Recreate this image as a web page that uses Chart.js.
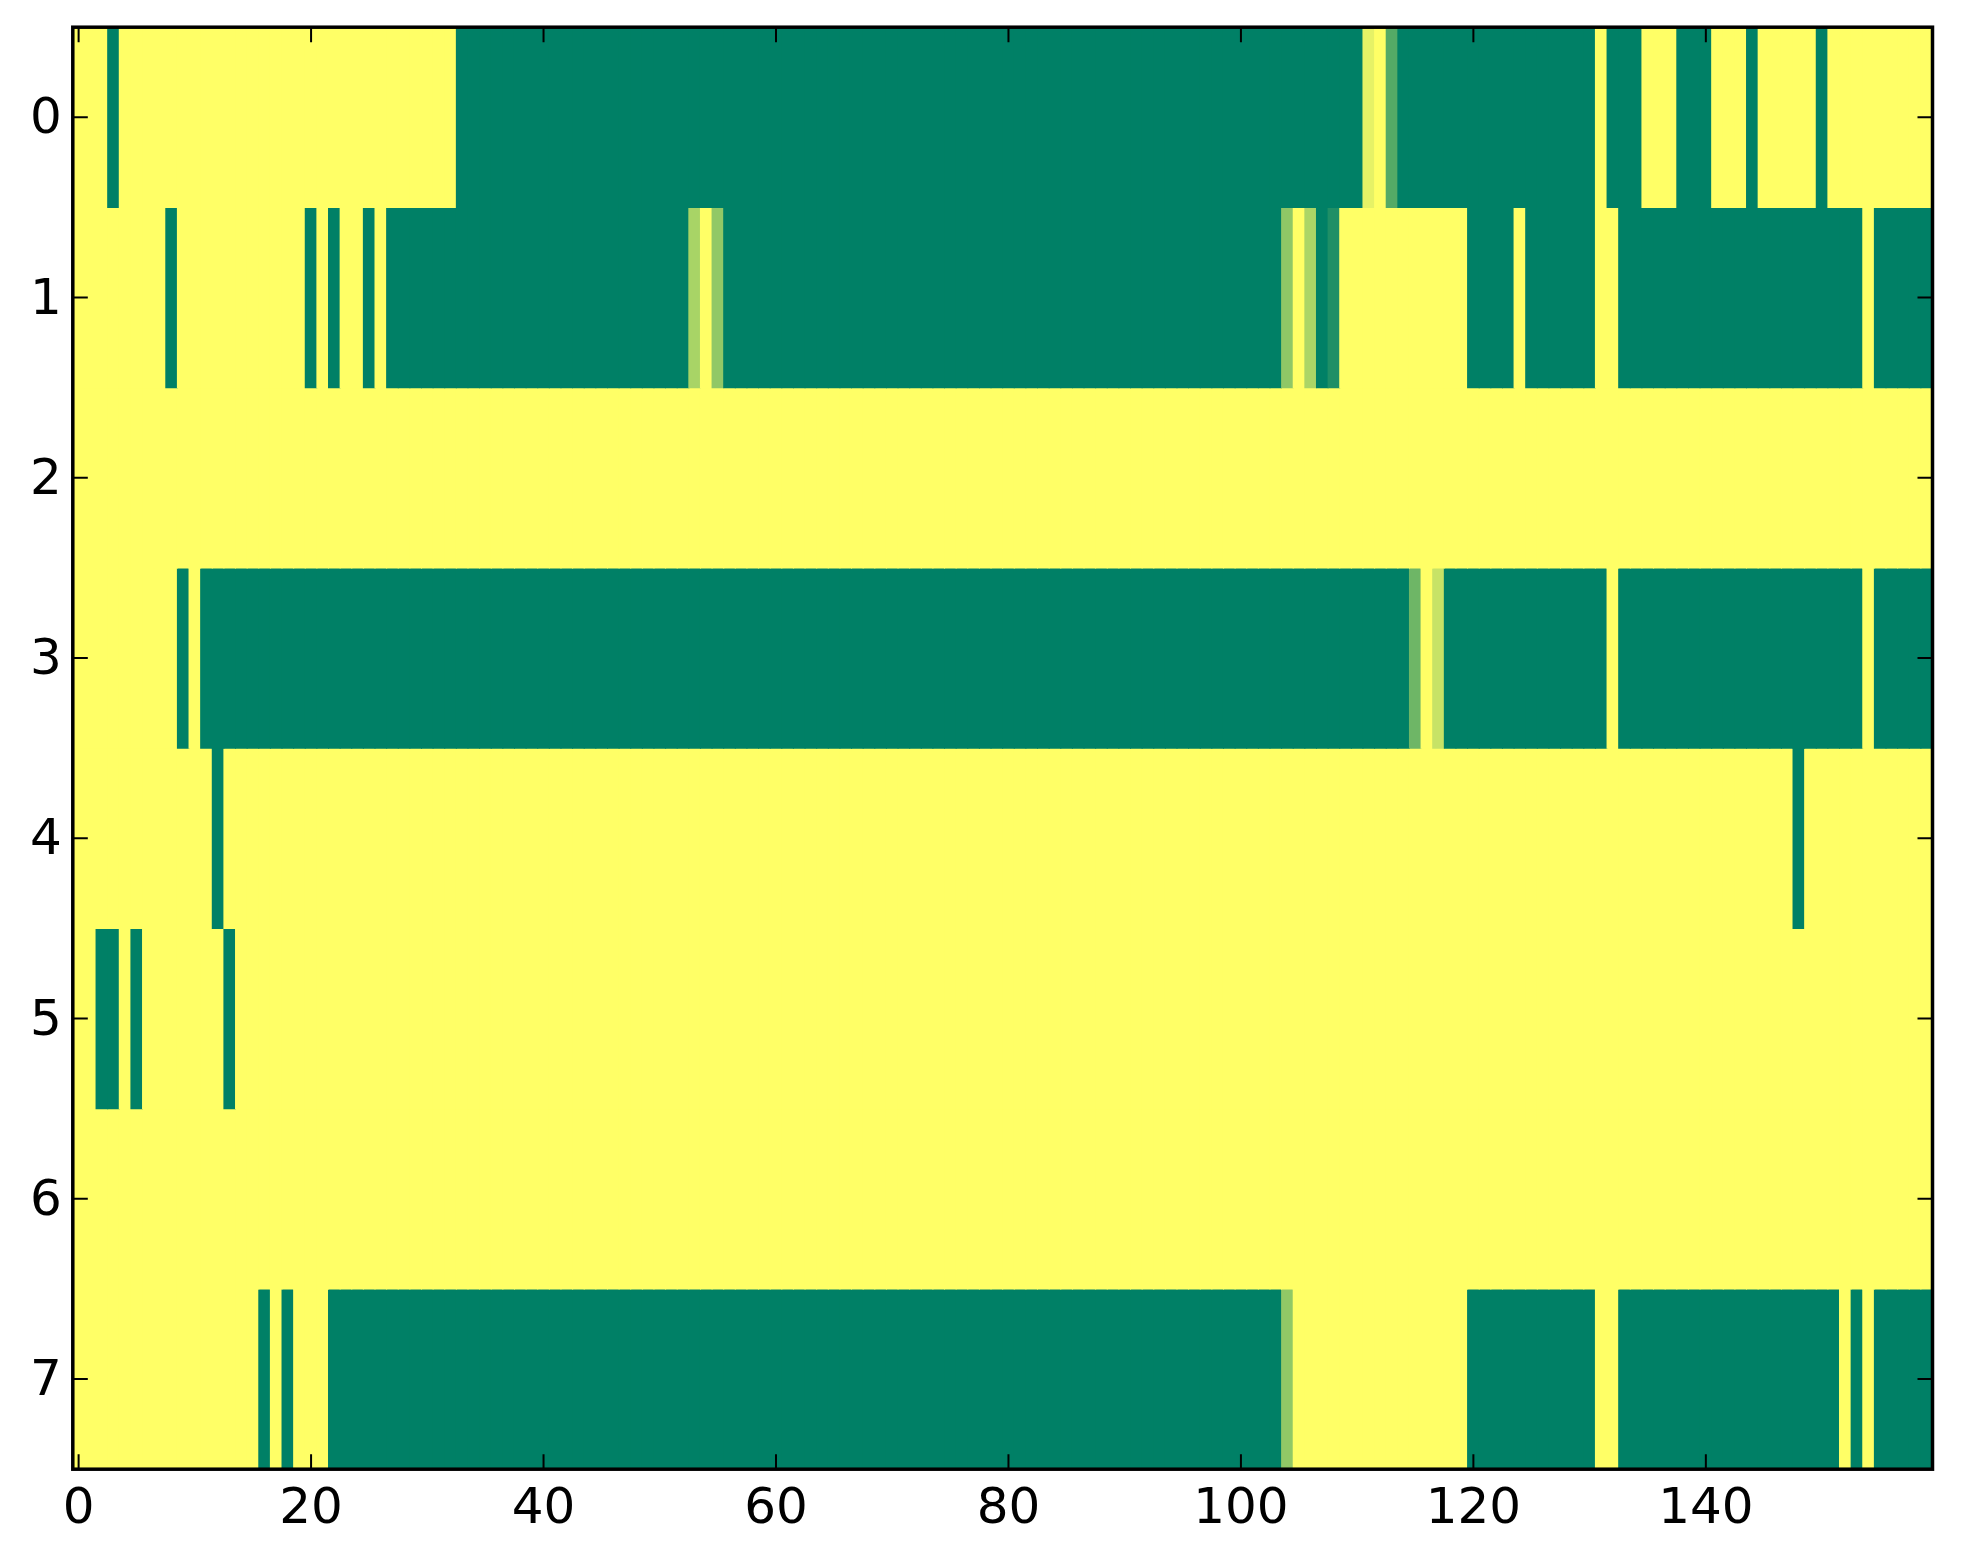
<!DOCTYPE html>
<html>
<head>
<meta charset="utf-8">
<script src="https://cdn.jsdelivr.net/npm/chart.js@4.4.1/dist/chart.umd.min.js"></script>
<style>
    html, body { margin: 0; padding: 0; background: #fff; }
    #wrap { width: 1963px; height: 1564px; position: relative; }
</style>
</head>
<body>
<div id="wrap"><canvas id="heat"></canvas></div>
<script>
// cell values per row (0 = green, 1 = yellow), 160 columns each
const row0 = [
    1, 1, 1, 0, 1, 1, 1, 1, 1, 1, 1, 1, 1, 1, 1, 1, 1, 1, 1, 1,
    1, 1, 1, 1, 1, 1, 1, 1, 1, 1, 1, 1, 1, 0, 0, 0, 0, 0, 0, 0,
    0, 0, 0, 0, 0, 0, 0, 0, 0, 0, 0, 0, 0, 0, 0, 0, 0, 0, 0, 0,
    0, 0, 0, 0, 0, 0, 0, 0, 0, 0, 0, 0, 0, 0, 0, 0, 0, 0, 0, 0,
    0, 0, 0, 0, 0, 0, 0, 0, 0, 0, 0, 0, 0, 0, 0, 0, 0, 0, 0, 0,
    0, 0, 0, 0, 0, 0, 0, 0, 0, 0, 0, 0.9, 1, 0.33, 0, 0, 0, 0, 0, 0,
    0, 0, 0, 0, 0, 0, 0, 0, 0, 0, 0, 1, 0, 0, 0, 1, 1, 1, 0, 0,
    0, 1, 1, 1, 0, 1, 1, 1, 1, 1, 0, 1, 1, 1, 1, 1, 1, 1, 1, 1
];
const row1 = [
    1, 1, 1, 1, 1, 1, 1, 1, 0, 1, 1, 1, 1, 1, 1, 1, 1, 1, 1, 1,
    0, 1, 0, 1, 1, 0, 1, 0, 0, 0, 0, 0, 0, 0, 0, 0, 0, 0, 0, 0,
    0, 0, 0, 0, 0, 0, 0, 0, 0, 0, 0, 0, 0, 0.66, 1, 0.57, 0, 0, 0, 0,
    0, 0, 0, 0, 0, 0, 0, 0, 0, 0, 0, 0, 0, 0, 0, 0, 0, 0, 0, 0,
    0, 0, 0, 0, 0, 0, 0, 0, 0, 0, 0, 0, 0, 0, 0, 0, 0, 0, 0, 0,
    0, 0, 0, 0, 0.56, 1, 0.67, 0, 0.12, 1, 1, 1, 1, 1, 1, 1, 1, 1, 1, 1,
    0, 0, 0, 0, 1, 0, 0, 0, 0, 0, 0, 1, 1, 0, 0, 0, 0, 0, 0, 0,
    0, 0, 0, 0, 0, 0, 0, 0, 0, 0, 0, 0, 0, 0, 1, 0, 0, 0, 0, 0
];
const row2 = [
    1, 1, 1, 1, 1, 1, 1, 1, 1, 1, 1, 1, 1, 1, 1, 1, 1, 1, 1, 1,
    1, 1, 1, 1, 1, 1, 1, 1, 1, 1, 1, 1, 1, 1, 1, 1, 1, 1, 1, 1,
    1, 1, 1, 1, 1, 1, 1, 1, 1, 1, 1, 1, 1, 1, 1, 1, 1, 1, 1, 1,
    1, 1, 1, 1, 1, 1, 1, 1, 1, 1, 1, 1, 1, 1, 1, 1, 1, 1, 1, 1,
    1, 1, 1, 1, 1, 1, 1, 1, 1, 1, 1, 1, 1, 1, 1, 1, 1, 1, 1, 1,
    1, 1, 1, 1, 1, 1, 1, 1, 1, 1, 1, 1, 1, 1, 1, 1, 1, 1, 1, 1,
    1, 1, 1, 1, 1, 1, 1, 1, 1, 1, 1, 1, 1, 1, 1, 1, 1, 1, 1, 1,
    1, 1, 1, 1, 1, 1, 1, 1, 1, 1, 1, 1, 1, 1, 1, 1, 1, 1, 1, 1
];
const row3 = [
    1, 1, 1, 1, 1, 1, 1, 1, 1, 0, 1, 0, 0, 0, 0, 0, 0, 0, 0, 0,
    0, 0, 0, 0, 0, 0, 0, 0, 0, 0, 0, 0, 0, 0, 0, 0, 0, 0, 0, 0,
    0, 0, 0, 0, 0, 0, 0, 0, 0, 0, 0, 0, 0, 0, 0, 0, 0, 0, 0, 0,
    0, 0, 0, 0, 0, 0, 0, 0, 0, 0, 0, 0, 0, 0, 0, 0, 0, 0, 0, 0,
    0, 0, 0, 0, 0, 0, 0, 0, 0, 0, 0, 0, 0, 0, 0, 0, 0, 0, 0, 0,
    0, 0, 0, 0, 0, 0, 0, 0, 0, 0, 0, 0, 0, 0, 0, 0.43, 1, 0.78, 0, 0,
    0, 0, 0, 0, 0, 0, 0, 0, 0, 0, 0, 0, 1, 0, 0, 0, 0, 0, 0, 0,
    0, 0, 0, 0, 0, 0, 0, 0, 0, 0, 0, 0, 0, 0, 1, 0, 0, 0, 0, 0
];
const row4 = [
    1, 1, 1, 1, 1, 1, 1, 1, 1, 1, 1, 1, 0, 1, 1, 1, 1, 1, 1, 1,
    1, 1, 1, 1, 1, 1, 1, 1, 1, 1, 1, 1, 1, 1, 1, 1, 1, 1, 1, 1,
    1, 1, 1, 1, 1, 1, 1, 1, 1, 1, 1, 1, 1, 1, 1, 1, 1, 1, 1, 1,
    1, 1, 1, 1, 1, 1, 1, 1, 1, 1, 1, 1, 1, 1, 1, 1, 1, 1, 1, 1,
    1, 1, 1, 1, 1, 1, 1, 1, 1, 1, 1, 1, 1, 1, 1, 1, 1, 1, 1, 1,
    1, 1, 1, 1, 1, 1, 1, 1, 1, 1, 1, 1, 1, 1, 1, 1, 1, 1, 1, 1,
    1, 1, 1, 1, 1, 1, 1, 1, 1, 1, 1, 1, 1, 1, 1, 1, 1, 1, 1, 1,
    1, 1, 1, 1, 1, 1, 1, 1, 0, 1, 1, 1, 1, 1, 1, 1, 1, 1, 1, 1
];
const row5 = [
    1, 1, 0, 0, 1, 0, 1, 1, 1, 1, 1, 1, 1, 0, 1, 1, 1, 1, 1, 1,
    1, 1, 1, 1, 1, 1, 1, 1, 1, 1, 1, 1, 1, 1, 1, 1, 1, 1, 1, 1,
    1, 1, 1, 1, 1, 1, 1, 1, 1, 1, 1, 1, 1, 1, 1, 1, 1, 1, 1, 1,
    1, 1, 1, 1, 1, 1, 1, 1, 1, 1, 1, 1, 1, 1, 1, 1, 1, 1, 1, 1,
    1, 1, 1, 1, 1, 1, 1, 1, 1, 1, 1, 1, 1, 1, 1, 1, 1, 1, 1, 1,
    1, 1, 1, 1, 1, 1, 1, 1, 1, 1, 1, 1, 1, 1, 1, 1, 1, 1, 1, 1,
    1, 1, 1, 1, 1, 1, 1, 1, 1, 1, 1, 1, 1, 1, 1, 1, 1, 1, 1, 1,
    1, 1, 1, 1, 1, 1, 1, 1, 1, 1, 1, 1, 1, 1, 1, 1, 1, 1, 1, 1
];
const row6 = [
    1, 1, 1, 1, 1, 1, 1, 1, 1, 1, 1, 1, 1, 1, 1, 1, 1, 1, 1, 1,
    1, 1, 1, 1, 1, 1, 1, 1, 1, 1, 1, 1, 1, 1, 1, 1, 1, 1, 1, 1,
    1, 1, 1, 1, 1, 1, 1, 1, 1, 1, 1, 1, 1, 1, 1, 1, 1, 1, 1, 1,
    1, 1, 1, 1, 1, 1, 1, 1, 1, 1, 1, 1, 1, 1, 1, 1, 1, 1, 1, 1,
    1, 1, 1, 1, 1, 1, 1, 1, 1, 1, 1, 1, 1, 1, 1, 1, 1, 1, 1, 1,
    1, 1, 1, 1, 1, 1, 1, 1, 1, 1, 1, 1, 1, 1, 1, 1, 1, 1, 1, 1,
    1, 1, 1, 1, 1, 1, 1, 1, 1, 1, 1, 1, 1, 1, 1, 1, 1, 1, 1, 1,
    1, 1, 1, 1, 1, 1, 1, 1, 1, 1, 1, 1, 1, 1, 1, 1, 1, 1, 1, 1
];
const row7 = [
    1, 1, 1, 1, 1, 1, 1, 1, 1, 1, 1, 1, 1, 1, 1, 1, 0, 1, 0, 1,
    1, 1, 0, 0, 0, 0, 0, 0, 0, 0, 0, 0, 0, 0, 0, 0, 0, 0, 0, 0,
    0, 0, 0, 0, 0, 0, 0, 0, 0, 0, 0, 0, 0, 0, 0, 0, 0, 0, 0, 0,
    0, 0, 0, 0, 0, 0, 0, 0, 0, 0, 0, 0, 0, 0, 0, 0, 0, 0, 0, 0,
    0, 0, 0, 0, 0, 0, 0, 0, 0, 0, 0, 0, 0, 0, 0, 0, 0, 0, 0, 0,
    0, 0, 0, 0, 0.57, 1, 1, 1, 1, 1, 1, 1, 1, 1, 1, 1, 1, 1, 1, 1,
    0, 0, 0, 0, 0, 0, 0, 0, 0, 0, 0, 1, 1, 0, 0, 0, 0, 0, 0, 0,
    0, 0, 0, 0, 0, 0, 0, 0, 0, 0, 0, 0, 1, 0, 1, 0, 0, 0, 0, 0
];

const rows = [row0, row1, row2, row3, row4, row5, row6, row7];
const xTicks = [0, 20, 40, 60, 80, 100, 120, 140];
const yTicks = [0, 1, 2, 3, 4, 5, 6, 7];

// matplotlib "summer" colormap
function summer(t) {
    const r = Math.round(255 * t);
    const g = Math.round(127.5 + 127.5 * t);
    return `rgb(${r},${g},102)`;
}

const datasets = rows.map((vals, r) => ({
    label: 'row ' + r,
    data: vals.map((v, c) => ({ x: c, y: [r - 0.5, r + 0.5] })),
    backgroundColor: vals.map(summer),
    borderWidth: 0,
    barPercentage: 1,
    categoryPercentage: 1,
    grouped: false,
    inflateAmount: 0.5
}));

// frame plus inward ticks on all four sides
const frameTicks = {
    id: 'frameTicks',
    afterDatasetsDraw(chart) {
        const { ctx, chartArea: a, scales: { x, y } } = chart;
        const len = 15;
        ctx.save();
        ctx.strokeStyle = '#000';
        ctx.lineWidth = 2;
        ctx.beginPath();
        xTicks.forEach(v => {
            const px = x.getPixelForValue(v);
            ctx.moveTo(px, a.bottom); ctx.lineTo(px, a.bottom - len);
            ctx.moveTo(px, a.top); ctx.lineTo(px, a.top + len);
        });
        yTicks.forEach(v => {
            const py = y.getPixelForValue(v);
            ctx.moveTo(a.left, py); ctx.lineTo(a.left + len, py);
            ctx.moveTo(a.right, py); ctx.lineTo(a.right - len, py);
        });
        ctx.stroke();
        ctx.lineWidth = 3.5;
        ctx.strokeRect(a.left, a.top, a.right - a.left, a.bottom - a.top);
        ctx.restore();
    }
};

Chart.defaults.font.family = "'DejaVu Sans', sans-serif";
Chart.defaults.font.size = 50;
Chart.defaults.color = '#000';

new Chart(document.getElementById('heat'), {
    type: 'bar',
    data: { datasets },
    options: {
        responsive: true,
        maintainAspectRatio: false,
        animation: false,
        layout: { padding: { top: 27.2, right: 30.5, left: 0, bottom: 0 } },
        plugins: { legend: { display: false }, tooltip: { enabled: false } },
        scales: {
            x: {
                type: 'linear',
                offset: false,
                min: -0.5,
                max: 159.5,
                grid: { display: false, offset: false },
                border: { display: false },
                ticks: { padding: 2.5, maxRotation: 0 },
                afterBuildTicks: s => { s.ticks = xTicks.map(v => ({ value: v })); },
                afterFit: s => { s.height = 94.8; s.paddingLeft = 0; s.paddingRight = 0; }
            },
            y: {
                type: 'linear',
                reverse: true,
                min: -0.5,
                max: 7.5,
                grid: { display: false },
                border: { display: false },
                ticks: { padding: 3, labelOffset: 3 },
                afterBuildTicks: s => { s.ticks = yTicks.map(v => ({ value: v })); },
                afterFit: s => { s.width = 72.8; s.paddingTop = 0; s.paddingBottom = 0; }
            }
        }
    },
    plugins: [frameTicks]
});
</script>
</body>
</html>
